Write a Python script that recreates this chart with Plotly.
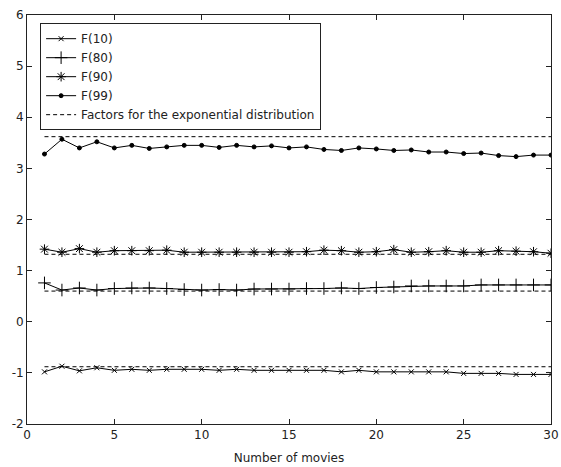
import plotly.graph_objects as go

movies = list(range(1, 31))
f10 = [-0.98, -0.87, -0.96, -0.90, -0.95, -0.93, -0.95, -0.93, -0.93, -0.93,
       -0.95, -0.93, -0.95, -0.95, -0.95, -0.95, -0.95, -0.98, -0.95, -0.98,
       -0.98, -0.98, -0.98, -0.98, -1.01, -1.01, -1.01, -1.03, -1.03, -1.03]
f80 = [0.76, 0.62, 0.66, 0.62, 0.65, 0.66, 0.66, 0.65, 0.63, 0.62,
       0.63, 0.62, 0.64, 0.64, 0.64, 0.65, 0.65, 0.66, 0.65, 0.67,
       0.68, 0.70, 0.70, 0.70, 0.70, 0.72, 0.72, 0.72, 0.72, 0.72]
f90 = [1.42, 1.36, 1.43, 1.36, 1.39, 1.39, 1.39, 1.40, 1.36, 1.36,
       1.36, 1.36, 1.36, 1.36, 1.36, 1.37, 1.40, 1.39, 1.36, 1.37,
       1.41, 1.36, 1.37, 1.39, 1.36, 1.36, 1.39, 1.38, 1.37, 1.34]
f99 = [3.28, 3.57, 3.40, 3.52, 3.40, 3.45, 3.39, 3.42, 3.45, 3.45,
       3.41, 3.45, 3.42, 3.44, 3.40, 3.42, 3.37, 3.35, 3.40, 3.38,
       3.35, 3.36, 3.32, 3.32, 3.29, 3.30, 3.25, 3.23, 3.26, 3.26]
exp_factors = [-0.88, 0.60, 1.32, 3.62]
x_ticks = [0, 5, 10, 15, 20, 25, 30]
y_ticks = [-2, -1, 0, 1, 2, 3, 4, 5, 6]
y_tick_labels = ["-2", "-1", "0", "1", "2", "3", "4", "5", "6"]

series = [
    ("F(10)", f10, "x-thin", 5),
    ("F(80)", f80, "cross-thin", 9),
    ("F(90)", f90, "asterisk", 8),
    ("F(99)", f99, "circle", 4),
]

FONT = "DejaVu Sans"

fig = go.Figure()
for name, vals, sym, sz in series:
    fig.add_trace(go.Scatter(
        x=movies, y=vals, name=name, mode="lines+markers",
        line=dict(color="black", width=1),
        marker=dict(symbol=sym, size=sz, color="black",
                    line=dict(color="black", width=1)),
    ))

fx, fy = [], []
for v in exp_factors:
    fx += [movies[0], movies[-1], None]
    fy += [v, v, None]
fig.add_trace(go.Scatter(
    x=fx, y=fy, name="Factors for the exponential distribution", mode="lines",
    line=dict(color="black", width=1, dash="4px,3px"),
))

axis_common = dict(
    showgrid=False, zeroline=False, showline=True, linecolor="#222", linewidth=1,
    mirror="ticks", ticks="inside", ticklen=5, tickcolor="#222", automargin=False,
    tickfont=dict(family=FONT, size=12, color="#222"),
)
fig.update_xaxes(range=[0, 30], tickvals=x_ticks,
                 title=dict(text="Number of movies", standoff=12,
                            font=dict(family=FONT, size=12, color="#222")),
                 **axis_common)
fig.update_yaxes(range=[-2, 6], tickvals=y_ticks, ticktext=y_tick_labels, **axis_common)

fig.update_layout(
    width=561, height=467,
    margin=dict(l=27, r=10, t=15, b=43),
    paper_bgcolor="white", plot_bgcolor="white",
    font=dict(family=FONT, size=12, color="#222"),
    legend=dict(x=0.025, y=0.98, xanchor="left", yanchor="top",
                bgcolor="white", bordercolor="#222", borderwidth=1,
                font=dict(size=12), tracegroupgap=0, itemwidth=30),
    showlegend=True,
)

fig.write_html("out.html")
